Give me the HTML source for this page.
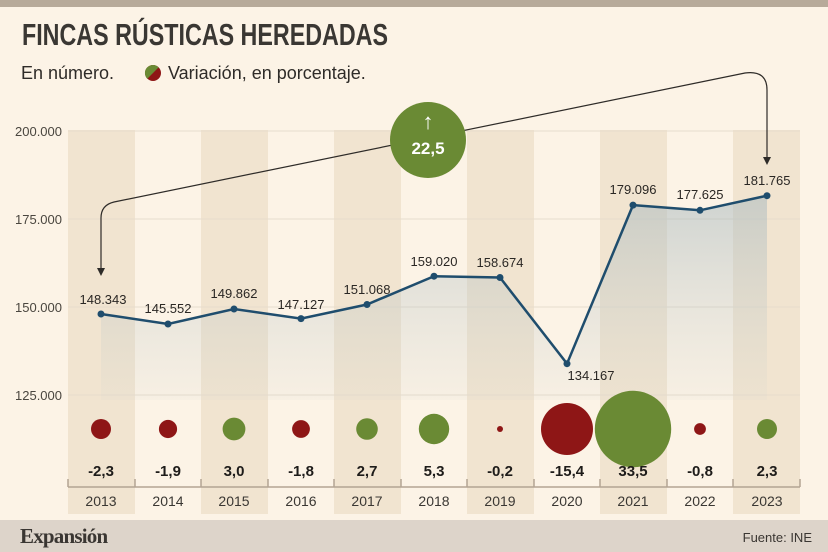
<!DOCTYPE html>
<html><head><meta charset="utf-8"><style>
body{margin:0;width:828px;height:552px;overflow:hidden;background:#fcf3e6;font-family:"Liberation Sans",sans-serif}
svg{display:block}
</style></head><body>
<svg width="828" height="552" viewBox="0 0 828 552">
<defs><linearGradient id="g" x1="0" y1="0" x2="0" y2="1"><stop offset="0" stop-color="#a9b9bf" stop-opacity="0.55"/><stop offset="1" stop-color="#c9d0cc" stop-opacity="0.1"/></linearGradient></defs>
<rect x="0" y="0" width="828" height="7" fill="#b7aa9a"/>
<g fill="#f1e4d0">
<rect x="68" y="130" width="67" height="384"/><rect x="201" y="130" width="67" height="384"/><rect x="334" y="130" width="67" height="384"/><rect x="467" y="130" width="67" height="384"/><rect x="600" y="130" width="67" height="384"/><rect x="733" y="130" width="67" height="384"/>
</g>
<g stroke="#e6dccd" stroke-width="1">
<line x1="68" y1="131" x2="800" y2="131"/><line x1="68" y1="219" x2="800" y2="219"/><line x1="68" y1="307" x2="800" y2="307"/><line x1="68" y1="395" x2="800" y2="395"/>
</g>
<text x="22" y="45" font-size="31" font-weight="bold" fill="#3a3733" font-family="Liberation Sans Narrow,Liberation Sans,sans-serif" textLength="366" lengthAdjust="spacingAndGlyphs">FINCAS RÚSTICAS  HEREDADAS</text>
<text x="21" y="79" font-size="18" fill="#2e2b28">En número.</text>
<circle cx="153" cy="73" r="8" fill="#8e1616"/><path d="M147.3 78.7 A8 8 0 0 1 158.7 67.3 Z" fill="#6a8a34"/>
<text x="168" y="79" font-size="18" fill="#2e2b28">Variación, en porcentaje.</text>
<g font-size="13" fill="#4a463f" text-anchor="end">
<text x="62" y="136">200.000</text><text x="62" y="224">175.000</text><text x="62" y="312">150.000</text><text x="62" y="400">125.000</text>
</g>
<path d="M101 314 L168 324 L234 309 L301 318.6 L367 304.5 L434 276.2 L500 277.5 L567 363.7 L633 205.1 L700 210.3 L767 195.7 L767 400 L101 400 Z" fill="url(#g)"/>
<path d="M101 314 L168 324 L234 309 L301 318.6 L367 304.5 L434 276.2 L500 277.5 L567 363.7 L633 205.1 L700 210.3 L767 195.7" fill="none" stroke="#1f4d6d" stroke-width="2.5"/>
<g fill="#1f4d6d"><circle cx="101" cy="314" r="3.5"/><circle cx="168" cy="324" r="3.5"/><circle cx="234" cy="309" r="3.5"/><circle cx="301" cy="318.6" r="3.5"/><circle cx="367" cy="304.5" r="3.5"/><circle cx="434" cy="276.2" r="3.5"/><circle cx="500" cy="277.5" r="3.5"/><circle cx="567" cy="363.7" r="3.5"/><circle cx="633" cy="205.1" r="3.5"/><circle cx="700" cy="210.3" r="3.5"/><circle cx="767" cy="195.7" r="3.5"/></g>
<g font-size="13" fill="#2a2724" text-anchor="middle">
<text x="103" y="304">148.343</text><text x="168" y="313">145.552</text><text x="234" y="298">149.862</text><text x="301" y="309">147.127</text><text x="367" y="294">151.068</text><text x="434" y="266">159.020</text><text x="500" y="267">158.674</text><text x="591" y="380">134.167</text><text x="633" y="194">179.096</text><text x="700" y="199">177.625</text><text x="767" y="185">181.765</text>
</g>
<path d="M101 273 L101 218 Q101 205 114 202 L745 73 Q767 70 767 90 L767 160" fill="none" stroke="#2e2b28" stroke-width="1.2"/>
<path d="M97 268 L101 276 L105 268 Z M763 157 L767 165 L771 157 Z" fill="#2e2b28"/>
<circle cx="428" cy="140" r="38" fill="#6a8a34"/>
<text x="428" y="129" font-size="22" font-weight="bold" fill="#fff" text-anchor="middle">↑</text>
<text x="428" y="154" font-size="17" font-weight="bold" fill="#fff" text-anchor="middle">22,5</text>
<g>
<circle cx="101" cy="429" r="10" fill="#8e1616"/><circle cx="168" cy="429" r="9.1" fill="#8e1616"/><circle cx="234" cy="429" r="11.4" fill="#6a8a34"/><circle cx="301" cy="429" r="8.9" fill="#8e1616"/><circle cx="367" cy="429" r="10.8" fill="#6a8a34"/><circle cx="434" cy="429" r="15.2" fill="#6a8a34"/><circle cx="500" cy="429" r="3" fill="#8e1616"/><circle cx="567" cy="429" r="26" fill="#8e1616"/><circle cx="633" cy="429" r="38.2" fill="#6a8a34"/><circle cx="700" cy="429" r="5.9" fill="#8e1616"/><circle cx="767" cy="429" r="10" fill="#6a8a34"/>
</g>
<g font-size="15" fill="#1e1c1a" text-anchor="middle" font-weight="bold">
<text x="101" y="476">-2,3</text><text x="168" y="476">-1,9</text><text x="234" y="476">3,0</text><text x="301" y="476">-1,8</text><text x="367" y="476">2,7</text><text x="434" y="476">5,3</text><text x="500" y="476">-0,2</text><text x="567" y="476">-15,4</text><text x="633" y="476">33,5</text><text x="700" y="476">-0,8</text><text x="767" y="476">2,3</text>
</g>
<path d="M68 487 H800 M68 479 V487 M135 479 V487 M201 479 V487 M268 479 V487 M334 479 V487 M401 479 V487 M467 479 V487 M534 479 V487 M600 479 V487 M667 479 V487 M733 479 V487 M800 479 V487" stroke="#b3a493" stroke-width="1.5" fill="none"/>
<g font-size="14" fill="#3a3733" text-anchor="middle">
<text x="101" y="506">2013</text><text x="168" y="506">2014</text><text x="234" y="506">2015</text><text x="301" y="506">2016</text><text x="367" y="506">2017</text><text x="434" y="506">2018</text><text x="500" y="506">2019</text><text x="567" y="506">2020</text><text x="633" y="506">2021</text><text x="700" y="506">2022</text><text x="767" y="506">2023</text>
</g>
<rect x="0" y="520" width="828" height="32" fill="#ddd4ca"/>
<text x="20" y="543" font-size="21" font-weight="bold" fill="#3a3632" font-family="Liberation Serif,serif" letter-spacing="-0.8">Expansión</text>
<text x="812" y="542" font-size="13" fill="#3a3632" text-anchor="end">Fuente: INE</text>
</svg>
</body></html>
